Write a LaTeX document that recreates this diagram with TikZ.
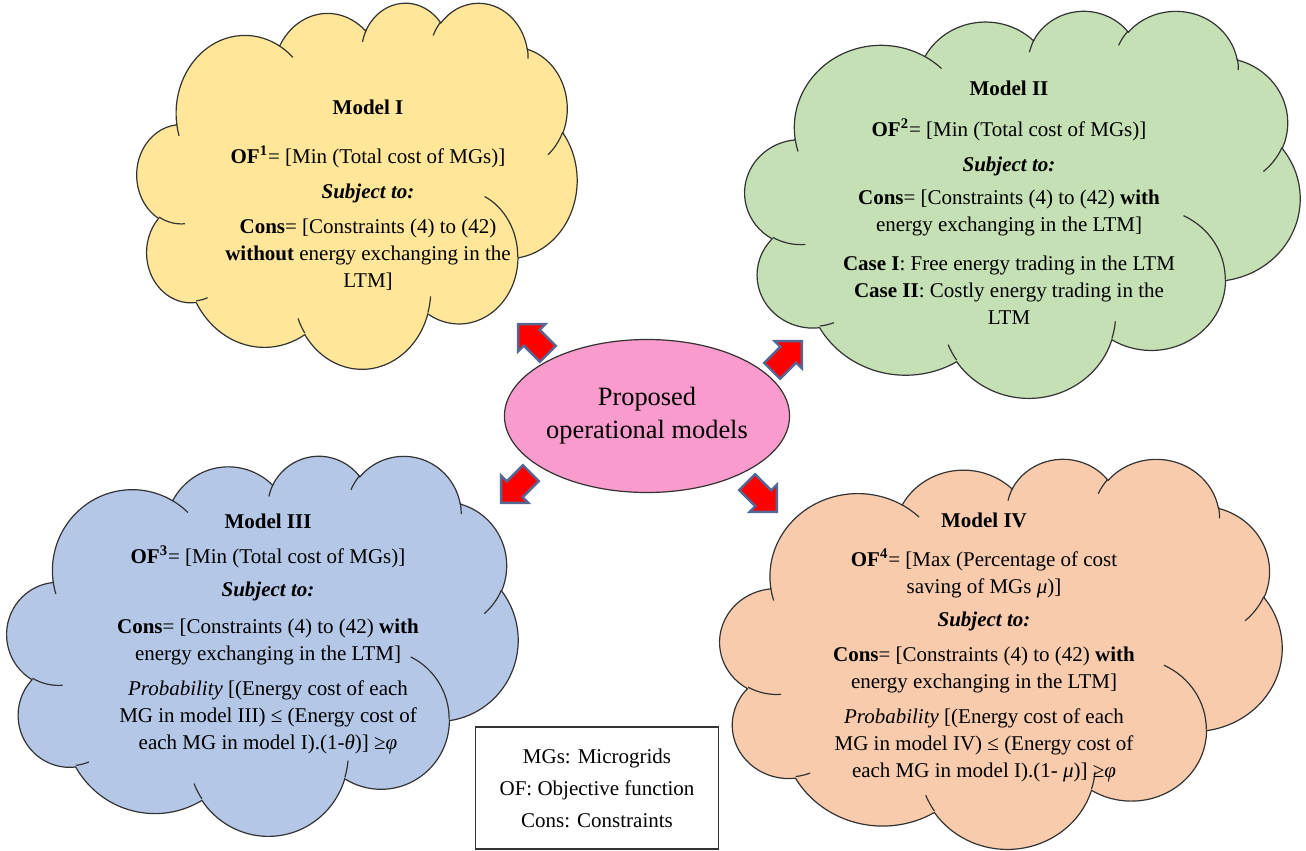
\documentclass[tikz,border=0pt]{standalone}
\usepackage{fontspec}
\setmainfont{Liberation Serif}
\usetikzlibrary{shapes.arrows,shapes.geometric,positioning}

\definecolor{yellowcloud}{RGB}{255,230,153}
\definecolor{greencloud}{RGB}{197,224,180}
\definecolor{bluecloud}{RGB}{180,199,231}
\definecolor{orangecloud}{RGB}{248,203,173}
\definecolor{pinkcore}{RGB}{250,155,205}
\definecolor{arrowedge}{RGB}{84,104,150}

\tikzset{
  cloudline/.style={draw=black!80, line width=0.6pt},
  modeltext/.style={align=center, font=\fontsize{10.5}{13.5}\selectfont},
  blockarrow/.style={single arrow, fill=red, draw=arrowedge, line width=1.2pt,
    minimum height=21pt, minimum width=18pt, single arrow head extend=4pt, inner sep=5pt}
}

% office-like cloud: #1,#2 top left, #3 x #4 size, #5 fill
\newcommand\officecloud[5]{%
  \pgfmathsetmacro\cloudw{#3/864}\pgfmathsetmacro\cloudh{#4/864}
  \begin{scope}[shift={(#1,#2)}, x=\cloudw pt, y=-\cloudh pt]
  \draw[cloudline, fill=#5] (39,143.7)
    \foreach \rx/\ry/\st/\sw [evaluate={\st as \ps using atan2(\rx*sin(\st),\ry*cos(\st))},
        evaluate={\st as \pe using atan2(\rx*sin(\st+\sw),\ry*cos(\st+\sw))},
        evaluate={\sw as \dd using (\pe)-(\ps)+360*((\sw>0)*(\pe<\ps))-360*((\sw<0)*(\pe>\ps))}]
      in {67.53/91.90/-190.487/123.781, 53.33/72.67/-144.102/89.945,
          43.65/59.45/-145.808/99.723, 48.57/65.95/-130.986/117.242,
          53.33/72.73/-78.709/109.027, 67.75/92.20/-46.267/130.269,
          57.85/78.67/0.625/114.033, 67.52/92.15/22.452/115.173,
          77.20/105.43/66.243/75.711, 43.60/59.18/-274.942/146.736,
          43.45/59.45/-246.829/152.519}
      { arc[start angle=\ps, delta angle=\dd, x radius=\rx, y radius=\ry] } -- cycle;
  \draw[cloudline]
    \foreach \sx/\sy/\rx/\ry/\st/\sw [evaluate={\st as \ps using atan2(\rx*sin(\st),\ry*cos(\st))},
        evaluate={\st as \pe using atan2(\rx*sin(\st+\sw),\ry*cos(\st+\sw))},
        evaluate={\sw as \dd using (\pe)-(\ps)+360*((\sw>0)*(\pe<\ps))-360*((\sw<0)*(\pe>\ps))}]
      in {46.93/261.77/43.45/59.45/86.742/26.430, 69.28/348.99/43.60/59.18/73.610/11.447,
          164.78/390.90/67.52/92.15/137.624/14.081, 288.27/347.51/67.52/92.15/6.453/15.998,
          341.29/229.54/57.85/78.67/-70.292/70.917, 417.98/153.54/53.33/72.73/30.318/27.752,
          383.24/54.26/48.57/65.95/-13.744/14.859, 290.78/39.52/48.57/65.95/-149.181/18.195,
          221.41/47.20/43.65/59.45/-163.494/17.686, 140.00/51.92/67.53/91.90/-66.707/12.319,
          41.27/157.89/67.53/91.90/157.654/11.858}
      { (\sx,\sy) arc[start angle=\ps, delta angle=\dd, x radius=\rx, y radius=\ry] };
  \end{scope}}

\begin{document}
\begin{tikzpicture}[x=0.5pt,y=-0.5pt]
\useasboundingbox (0,0) rectangle (1306,851);

% the four clouds
\officecloud{137}{2}{440}{366}{yellowcloud}
\officecloud{745}{10}{555}{387}{greencloud}
\officecloud{7}{455}{511}{380}{bluecloud}
\officecloud{720}{458}{562}{390}{orangecloud}

\node[modeltext] (m1) at (368,195) {\textbf{Model I}\\[11pt]
  \textbf{OF\textsuperscript{1}}= [Min (Total cost of MGs)]\\[4pt]
  \textbf{\textit{Subject to:}}\\[4pt]
  \textbf{Cons}= [Constraints (4) to (42)\\
  \textbf{without} energy exchanging in the\\
  LTM]};

\node[modeltext] (m2) at (1009,203) {\textbf{Model II}\\[7pt]
  \textbf{OF\textsuperscript{2}}= [Min (Total cost of MGs)]\\[4pt]
  \textbf{\textit{Subject to:}}\\[3pt]
  \textbf{Cons}= [Constraints (4) to (42) \textbf{with}\\
  energy exchanging in the LTM]\\[6pt]
  \textbf{Case I}: Free energy trading in the LTM\\
  \textbf{Case II}: Costly energy trading in the\\
  LTM};

\node[modeltext] (m3) at (268,634) {\textbf{Model III}\\[4pt]
  \textbf{OF\textsuperscript{3}}= [Min (Total cost of MGs)]\\[3pt]
  \textbf{\textit{Subject to:}}\\[5pt]
  \textbf{Cons}= [Constraints (4) to (42) \textbf{with}\\
  energy exchanging in the LTM]\\[4pt]
  \textit{Probability} [(Energy cost of each\\
  MG in model III) ≤ (Energy cost of\\
  each MG in model I).(1-\textit{θ})] ≥\textit{φ}};

\node[modeltext] (m4) at (984,647) {\textbf{Model IV}\\[6pt]
  \textbf{OF\textsuperscript{4}}= [Max (Percentage of cost\\
  saving of MGs \textit{μ})]\\[3pt]
  \textbf{\textit{Subject to:}}\\[4pt]
  \textbf{Cons}= [Constraints (4) to (42) \textbf{with}\\
  energy exchanging in the LTM]\\[4pt]
  \textit{Probability} [(Energy cost of each\\
  MG in model IV) ≤ (Energy cost of\\
  each MG in model I).(1- \textit{μ})] ≥\textit{φ}};

% centre
\node[ellipse, fill=pinkcore, draw=black!80, line width=0.6pt, inner sep=0pt,
  minimum width=140pt, minimum height=76.5pt, align=center,
  font=\fontsize{13.2}{16.5}\selectfont] (core) at (647,416) {Proposed\\operational models};

% block arrows
\foreach \n/\pos/\ang in {a1/{(537,343)}/135, a2/{(783,360)}/45, a3/{(520,484)}/225, a4/{(758,493)}/-45}
  \node[blockarrow, rotate=\ang] (\n) at \pos {};

% legend
\node[draw=black!80, line width=0.6pt, minimum width=121.5pt, minimum height=61pt, align=center,
  font=\fontsize{10.5}{13.5}\selectfont] (legend) at (597,788)
  {MGs: Microgrids\\[2.5pt] OF: Objective function\\[2.5pt] Cons: Constraints};

\end{tikzpicture}
\end{document}
